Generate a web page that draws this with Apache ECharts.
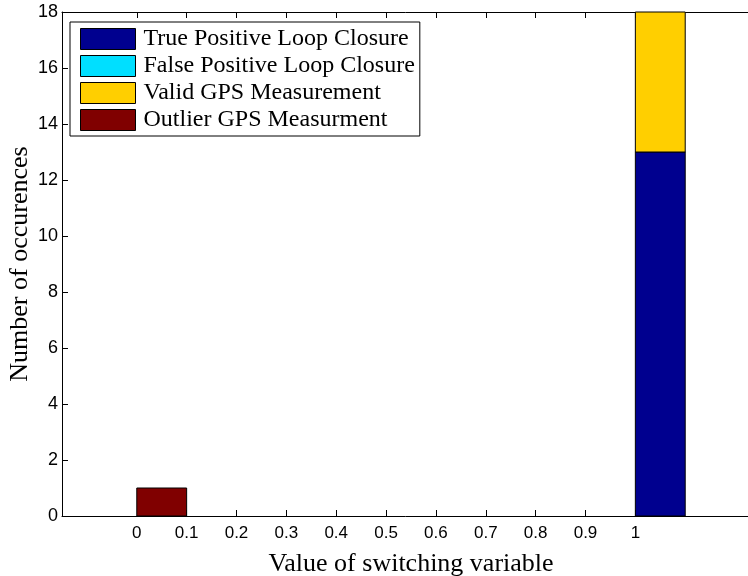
<!DOCTYPE html>
<html>
<head>
<meta charset="utf-8">
<script src="https://cdn.jsdelivr.net/npm/echarts@6/dist/echarts.min.js"></script>
<style>html,body{margin:0;padding:0;background:#fff}#c{width:748px;height:576px}</style>
</head>
<body>
<div id="c"></div>
<script>
var binStarts = [0, 0.1, 0.2, 0.3, 0.4, 0.5, 0.6, 0.7, 0.8, 0.9, 1.0];
var binWidth = 0.1;
var truePositive  = [0, 0, 0, 0, 0, 0, 0, 0, 0, 0, 13];
var falsePositive = [0, 0, 0, 0, 0, 0, 0, 0, 0, 0, 0];
var validGPS      = [0, 0, 0, 0, 0, 0, 0, 0, 0, 0, 5];
var outlierGPS    = [1, 0, 0, 0, 0, 0, 0, 0, 0, 0, 0];
var seriesNames = ['True Positive Loop Closure', 'False Positive Loop Closure', 'Valid GPS Measurement', 'Outlier GPS Measurment'];
var seriesColors = ['#00008f', '#00dfff', '#ffcf00', '#800000'];
var xTicks = [0, 0.1, 0.2, 0.3, 0.4, 0.5, 0.6, 0.7, 0.8, 0.9, 1];
var xTickLabels = ['0', '0.1', '0.2', '0.3', '0.4', '0.5', '0.6', '0.7', '0.8', '0.9', '1'];

var allValues = [truePositive, falsePositive, validGPS, outlierGPS];
var base = binStarts.map(function () { return 0; });
var series = allValues.map(function (vals, si) {
  var data = [];
  vals.forEach(function (v, i) {
    var y0 = base[i];
    var y1 = y0 + v;
    base[i] = y1;
    if (v > 0) data.push([binStarts[i], binStarts[i] + binWidth, y0, y1]);
  });
  return {
    type: 'custom',
    name: seriesNames[si],
    itemStyle: { color: seriesColors[si], borderColor: '#000', borderWidth: 1 },
    encode: { x: [0, 1], y: [2, 3] },
    data: data,
    renderItem: function (params, api) {
      var p0 = api.coord([api.value(0), api.value(3)]);
      var p1 = api.coord([api.value(1), api.value(2)]);
      return {
        type: 'rect',
        shape: { x: p0[0], y: p0[1], width: p1[0] - p0[0], height: p1[1] - p0[1] },
        style: { fill: seriesColors[si], stroke: '#000', lineWidth: 1 }
      };
    }
  };
});

var chart = echarts.init(document.getElementById('c'), null, { renderer: 'canvas' });
chart.setOption({
  animation: false,
  backgroundColor: '#fff',
  grid: { left: 62, right: -12, top: 12, bottom: 60, outerBoundsMode: 'none', containLabel: false },
  legend: {
    left: 70, top: 22, orient: 'vertical',
    padding: [5, 5, 4, 10],
    itemWidth: 55, itemHeight: 21, itemGap: 3,
    borderColor: '#000', borderWidth: 1, backgroundColor: '#fff',
    icon: 'rect',
    textStyle: { fontFamily: 'Liberation Serif', fontSize: 24, lineHeight: 21, color: '#000', padding: [0, 0, 0, 3] },
    data: seriesNames.map(function (n, i) {
      return { name: n, itemStyle: { color: seriesColors[i], borderColor: '#000', borderWidth: 1 } };
    }),
    selectedMode: false
  },
  xAxis: [{
    type: 'value', min: -0.15, max: 1.25, position: 'bottom',
    name: 'Value of switching variable', nameLocation: 'middle', nameGap: 35,
    nameTextStyle: { fontFamily: 'Liberation Serif', fontSize: 26, color: '#000' },
    axisLine: { show: true, onZero: false, lineStyle: { color: '#000', width: 1 } },
    axisTick: { show: true, inside: true, length: 6, customValues: xTicks, lineStyle: { color: '#000' } },
    axisLabel: { margin: 9, customValues: xTicks, fontFamily: 'Liberation Sans', fontSize: 17, color: '#000',
      formatter: function (v) { var i = xTicks.indexOf(v); return i >= 0 ? xTickLabels[i] : ''; } },
    splitLine: { show: false }
  }, {
    type: 'value', min: -0.15, max: 1.25, position: 'top',
    axisLine: { show: true, onZero: false, lineStyle: { color: '#000', width: 1 } },
    axisTick: { show: true, inside: true, length: 6, customValues: xTicks, lineStyle: { color: '#000' } },
    axisLabel: { show: false },
    splitLine: { show: false }
  }],
  yAxis: {
    type: 'value', min: 0, max: 18, interval: 2,
    name: 'Number of occurences', nameLocation: 'middle', nameGap: 29, nameRotate: 90,
    nameMoveOverlap: false,
    nameTextStyle: { fontFamily: 'Liberation Serif', fontSize: 26, color: '#000' },
    axisLine: { show: true, onZero: false, lineStyle: { color: '#000', width: 1 } },
    axisTick: { show: true, inside: true, length: 6, lineStyle: { color: '#000' } },
    axisLabel: { margin: 4, fontFamily: 'Liberation Sans', fontSize: 18, color: '#000' },
    splitLine: { show: false }
  },
  series: series
});
</script>
</body>
</html>
